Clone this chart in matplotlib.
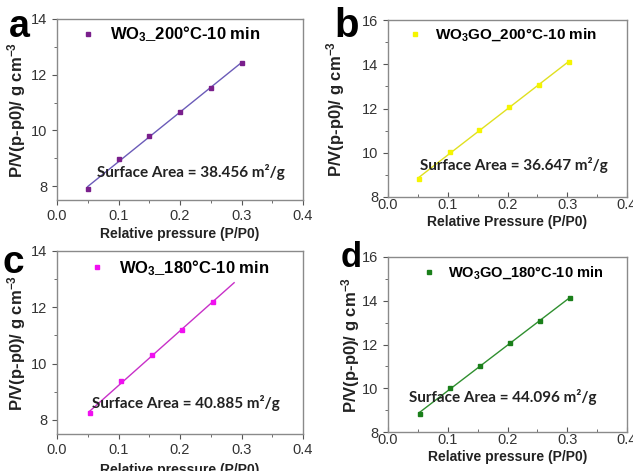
import numpy as np
import matplotlib
matplotlib.use("Agg")
import matplotlib.pyplot as plt
from matplotlib.ticker import MultipleLocator

plt.rcParams['font.family'] = ['Liberation Sans', 'DejaVu Sans']
plt.rcParams['mathtext.default'] = 'regular'

# data
x_a = [0.05, 0.10, 0.15, 0.20, 0.25, 0.30]
y_a = [7.89, 8.97, 9.81, 10.65, 11.51, 12.43]
x_b = [0.052, 0.103, 0.153, 0.203, 0.253, 0.303]
y_b = [8.80, 10.04, 11.05, 12.06, 13.07, 14.11]
x_c = [0.053, 0.104, 0.154, 0.204, 0.254]
y_c = [8.23, 9.38, 10.32, 11.21, 12.19]
x_d = [0.053, 0.104, 0.154, 0.204, 0.254, 0.304]
y_d = [8.84, 10.03, 11.02, 12.07, 13.07, 14.13]

labels = ['WO$_3$_200°C-10 min', 'WO$_3$GO_200°C-10 min',
          'WO$_3$_180°C-10 min', 'WO$_3$GO_180°C-10 min']
areas = ['38.456', '36.647', '40.885', '44.096']
letters = ['a', 'b', 'c', 'd']
xlabels = ['Relative pressure (P/P0)', 'Relative Pressure (P/P0)',
           'Relative pressure (P/P0)', 'Relative pressure (P/P0)']
ylims = [(7.5, 14), (8, 16), (7.5, 14), (8, 16)]
fit_end = [0.30, 0.303, 0.288, 0.304]

W, H = 633, 471
fig = plt.figure(figsize=(W / 100, H / 100), dpi=100)


def px_axes(left, top, right, bottom):
    return fig.add_axes([left / W, 1 - bottom / H, (right - left) / W, (bottom - top) / H])


panels = [
    dict(box=(57, 19, 303, 200), x=x_a, y=y_a, mc='#7a1f8c', lc='#6b5bb8',
         leg=(0.10, 0.915), legsize=12, legweight='bold', txt=(0.163, 0.155),
         tdir='out', tpad=3.0, xlab_pad=3, ylab_x=28, let=(9, 37), letsize=27),
    dict(box=(388, 20, 627, 197), x=x_b, y=y_b, mc='#f5f500', lc='#e0e020',
         leg=(0.087, 0.915), legsize=11, legweight='bold', txt=(0.134, 0.18),
         tdir='in', tpad=1.0, xlab_pad=2, ylab_x=347, let=(334, 37), letsize=29),
    dict(box=(57, 251, 303, 434), x=x_c, y=y_c, mc='#f010f0', lc='#c830c8',
         leg=(0.137, 0.907), legsize=12, legweight='bold', txt=(0.142, 0.17),
         tdir='out', tpad=3.0, xlab_pad=4, ylab_x=28, let=(3, 273), letsize=28),
    dict(box=(388, 257, 627, 432), x=x_d, y=y_d, mc='#1a7f1a', lc='#2f8f2f',
         leg=(0.146, 0.909), legsize=10.5, legweight='semibold', txt=(0.088, 0.20),
         tdir='in', tpad=1.0, xlab_pad=2, ylab_x=362, let=(341, 267), letsize=25),
]

for i, p in enumerate(panels):
    ax = px_axes(*p['box'])
    xs = np.array(p['x'])
    ys = np.array(p['y'])
    k, b = np.polyfit(xs, ys, 1)
    xf = np.array([xs[0], fit_end[i]])
    ax.plot(xf, k * xf + b, color=p['lc'], lw=1.0, zorder=2)
    ax.plot(xs, ys, ls='none', marker='s', ms=3.5, color=p['mc'], zorder=3,
            label=labels[i])
    ax.set_xlim(0, 0.4)
    ax.set_ylim(*ylims[i])
    ax.xaxis.set_major_locator(MultipleLocator(0.1))
    ax.xaxis.set_minor_locator(MultipleLocator(0.05))
    ax.yaxis.set_major_locator(MultipleLocator(2))
    ax.yaxis.set_minor_locator(MultipleLocator(1))
    ax.xaxis.set_major_formatter(plt.FuncFormatter(lambda v, _: f'{v:.1f}'))
    ax.tick_params(which='both', direction='out', color='#555555', labelsize=10.5,
                   labelcolor='#333333', top=False, right=False)
    ax.tick_params(axis='x', which='both', direction=p['tdir'], pad=p['tpad'])
    ax.tick_params(which='major', length=3.5)
    ax.tick_params(which='minor', length=2)
    for s in ax.spines.values():
        s.set_color('#8a8a8a')
        s.set_linewidth(1.0)
    ax.set_xlabel(xlabels[i], fontsize=10, fontweight='bold', color='#222222',
                  labelpad=p['xlab_pad'])
    ax.set_ylabel('P/V(p-p0)/ g cm$^{-3}$', fontsize=12, fontweight='bold',
                  color='#222222')
    ax.yaxis.set_label_coords((p['ylab_x'] - p['box'][0]) / (p['box'][2] - p['box'][0]), 0.5)
    ax.legend(loc='center left', bbox_to_anchor=p['leg'], frameon=False,
              prop=dict(size=p['legsize'], weight=p['legweight']), handlelength=0.8,
              handletextpad=0.9, borderpad=0, borderaxespad=0, markerscale=1.0)
    ax.text(p['txt'][0], p['txt'][1], f'Surface Area = {areas[i]} m²/g',
            transform=ax.transAxes, fontsize=11, fontweight='bold',
            family=['Lato', 'DejaVu Sans'], color='#222222', va='center', ha='left')
    fig.text(p['let'][0] / W, 1 - p['let'][1] / H, letters[i], fontsize=p['letsize'],
             fontweight='bold', ha='left', va='baseline', color='black')

fig.savefig('out.png', dpi=100)
